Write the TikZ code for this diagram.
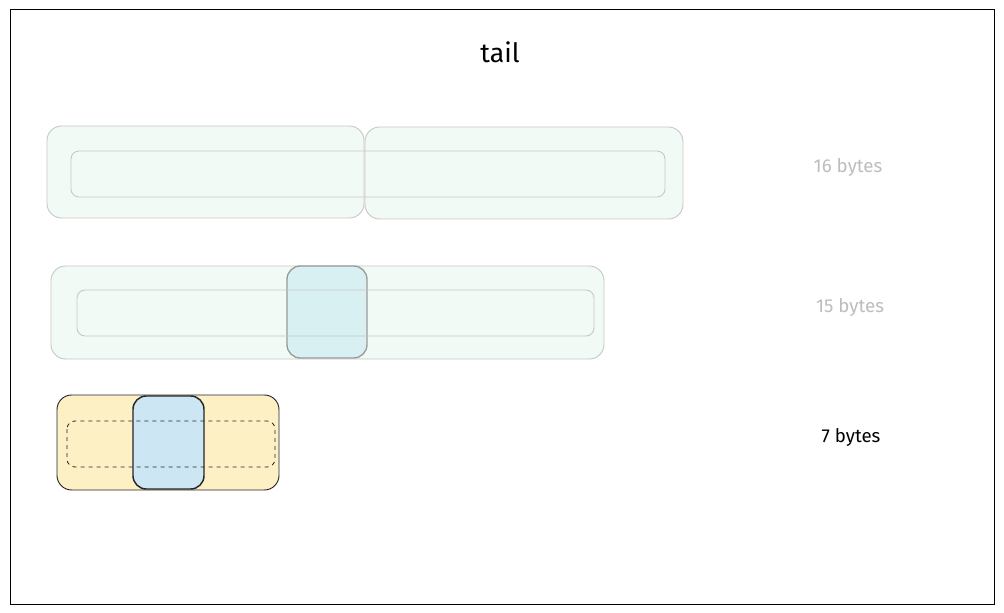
\documentclass[tikz,border=0pt]{standalone}
\usepackage{fontspec}
\setmainfont{Fira Sans}
\definecolor{faint}{HTML}{C8C8C8}
\definecolor{mid}{HTML}{9A9A9A}
\definecolor{greenfill}{HTML}{F2FAF6}
\definecolor{cyanfill}{HTML}{C4E9EE}
\definecolor{yellowfill}{HTML}{FCF0C4}
\definecolor{bluefill}{HTML}{CDE6F3}
\definecolor{labelgray}{HTML}{BDBDBD}
\tikzset{
  px/.style={x=0.75pt,y=-0.75pt},
  outerbox/.style={draw=faint,fill=greenfill,rounded corners=11pt,line width=0.7pt},
  innerbox/.style={draw=faint,rounded corners=6pt,line width=0.7pt},
  cyanbox/.style={draw=mid,fill=cyanfill,fill opacity=0.55,rounded corners=10pt,line width=1pt},
  yellowbox/.style={draw=black!85,fill=yellowfill,rounded corners=11pt,line width=0.7pt},
  dashbox/.style={draw=black!85,dashed,rounded corners=6pt,line width=0.6pt},
  bluebox/.style={draw=black!85,fill=bluefill,rounded corners=10pt,line width=1.1pt},
  bytes/.style={font=\fontsize{14}{16}\selectfont,anchor=center},
}
\begin{document}
\begin{tikzpicture}[px]
\useasboundingbox (0,0) rectangle (1004,613);
\fill[white] (0,0) rectangle (1004,613);
\draw[black,line width=0.7pt] (10,9) rectangle (994,604);
\node[font=\fontsize{20}{24}\selectfont] (title) at (500,52) {tail};
% row 1
\draw[outerbox] (47,126) rectangle (364,218) coordinate (a1);
\draw[outerbox] (365,127) rectangle (683,219) coordinate (a2);
\draw[innerbox] (71,151) rectangle (665,197) coordinate (a3);
\node[bytes,text=labelgray] (l16) at (848,167) {16 bytes};
% row 2
\draw[outerbox] (51,266) rectangle (604,359) coordinate (b1);
\draw[cyanbox] (287,266) rectangle (367,358) coordinate (b3);
\draw[innerbox] (77,290) rectangle (594,336) coordinate (b2);
\node[bytes,text=labelgray] (l15) at (850,307) {15 bytes};
% row 3
\draw[yellowbox] (57,395) rectangle (279,490) coordinate (c1);
\draw[bluebox] (133,396) rectangle (204,489) coordinate (c3);
\draw[dashbox] (67,421) rectangle (275,467) coordinate (c2);
\node[bytes,text=black] (l7) at (851,437) {7 bytes};
\end{tikzpicture}
\end{document}
